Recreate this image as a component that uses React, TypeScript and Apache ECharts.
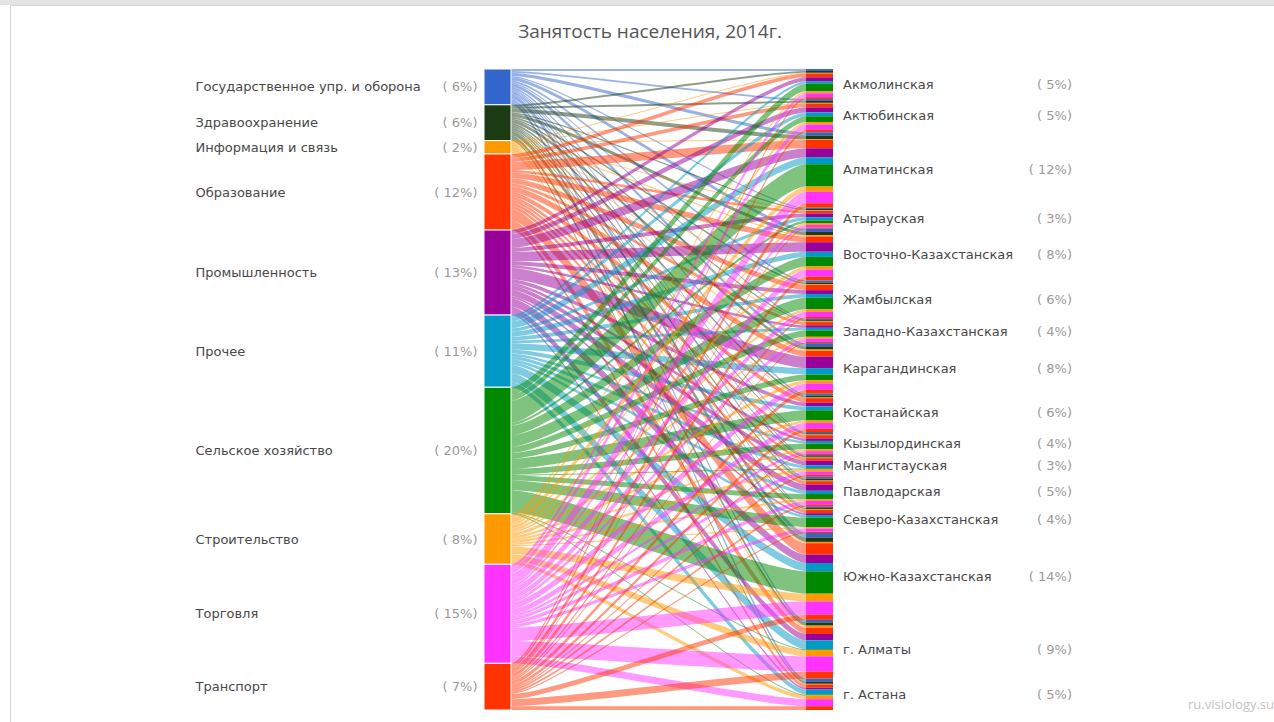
import React, { useEffect, useRef } from "react";
import * as echarts from "echarts";

const chartTitle = "Занятость населения, 2014г.";
const watermark = "ru.visiology.su";

const sectors = [
  "Государственное упр. и оборона",
  "Здравоохранение",
  "Информация и связь",
  "Образование",
  "Промышленность",
  "Прочее",
  "Сельское хозяйство",
  "Строительство",
  "Торговля",
  "Транспорт",
];
const sectorPct = ["6%", "6%", "2%", "12%", "13%", "11%", "20%", "8%", "15%", "7%"];
const sectorColors = [
  "#3366cc",
  "#1b3b14",
  "#ff9900",
  "#ff3300",
  "#990099",
  "#0099c6",
  "#008800",
  "#ff9900",
  "#ff33ff",
  "#ff3300",
];

const regions = [
  "Акмолинская",
  "Актюбинская",
  "Алматинская",
  "Атырауская",
  "Восточно-Казахстанская",
  "Жамбылская",
  "Западно-Казахстанская",
  "Карагандинская",
  "Костанайская",
  "Кызылординская",
  "Мангистауская",
  "Павлодарская",
  "Северо-Казахстанская",
  "Южно-Казахстанская",
  "г. Алматы",
  "г. Астана",
];
const regionPct = ["5%", "5%", "12%", "3%", "8%", "6%", "4%", "8%", "6%", "4%", "3%", "5%", "4%", "14%", "9%", "5%"];

// employment, per mille of total, by sector (rows) across regions (columns)
const govFlows = [3, 3, 5, 2, 5, 3, 2, 5, 3, 2, 2, 3, 2, 7, 4, 5];
const healthFlows = [3, 3, 6, 2, 5, 3, 2, 5, 3, 2, 2, 3, 2, 7, 5, 3];
const infoFlows = [1, 1, 1, 1, 2, 1, 1, 2, 1, 1, 1, 1, 1, 2, 3, 1];
const educationFlows = [6, 6, 13, 4, 9, 8, 5, 9, 7, 5, 4, 5, 5, 18, 10, 5];
const industryFlows = [6, 8, 14, 6, 15, 6, 4, 18, 6, 4, 7, 10, 3, 13, 10, 3];
const otherFlows = [4, 6, 11, 5, 8, 6, 4, 10, 6, 4, 5, 5, 4, 13, 14, 8];
const agricultureFlows = [12, 9, 35, 4, 15, 18, 10, 9, 16, 9, 1, 8, 15, 35, 1, 1];
const constructionFlows = [3, 4, 8, 3, 5, 4, 3, 5, 4, 3, 4, 3, 2, 12, 10, 6];
const tradeFlows = [6, 8, 18, 4, 11, 8, 5, 10, 9, 4, 5, 6, 5, 21, 24, 11];
const transportFlows = [3, 4, 7, 2, 6, 3, 2, 6, 5, 2, 3, 3, 2, 8, 11, 6];

const flows = [
  govFlows,
  healthFlows,
  infoFlows,
  educationFlows,
  industryFlows,
  otherFlows,
  agricultureFlows,
  constructionFlows,
  tradeFlows,
  transportFlows,
];

const FONT = "'DejaVu Sans', Verdana, sans-serif";

export default function App() {
  const ref = useRef<HTMLDivElement>(null);

  useEffect(() => {
    if (!ref.current) return;
    const chart = echarts.init(ref.current, undefined, { renderer: "svg" });

    const layoutBox = { left: 484, right: 441, top: 69, bottom: 12, nodeWidth: 27, nodeGap: 0 };

    // series 1: sectors -> striped sub-nodes (region x sector)
    const nodes1: any[] = sectors.map((s, i) => ({
      name: s,
      itemStyle: { color: sectorColors[i], borderColor: "#ffffff", borderWidth: 1, opacity: 1 },
    }));
    const links1: any[] = [];
    regions.forEach((r) => {
      sectors.forEach((s, si) => {
        nodes1.push({
          name: r + "|" + s,
          itemStyle: { color: sectorColors[si], borderWidth: 0, opacity: 1 },
          label: { show: false },
        });
      });
    });
    sectors.forEach((s, si) => {
      regions.forEach((r, ri) => {
        links1.push({ source: s, target: r + "|" + s, value: flows[si][ri] });
      });
    });

    // series 2: invisible sectors -> invisible regions, carrying the region labels
    const nodes2: any[] = [
      ...sectors.map((s) => ({
        name: s,
        itemStyle: { color: "rgba(0,0,0,0)", borderWidth: 0 },
        label: { show: false },
      })),
      ...regions.map((r) => ({
        name: r,
        itemStyle: { color: "rgba(0,0,0,0)", borderWidth: 0 },
      })),
    ];
    const links2: any[] = [];
    sectors.forEach((s, si) => {
      regions.forEach((r, ri) => {
        links2.push({ source: s, target: r, value: flows[si][ri] });
      });
    });

    chart.setOption({
      animation: false,
      backgroundColor: "#ffffff",
      title: {
        text: chartTitle,
        left: 645,
        textAlign: "center",
        top: 16,
        textStyle: { color: "#555555", fontSize: 19, fontWeight: "normal", fontFamily: "'Open Sans', sans-serif" },
      },
      graphic: [
        { type: "rect", z: -10, shape: { x: 0, y: 0, width: 1274, height: 5 }, style: { fill: "#e4e4e4" } },
        {
          type: "rect",
          z: -9,
          shape: { x: 10.5, y: 5.5, width: 1300, height: 740 },
          style: { fill: "none", stroke: "#d4d4d4", lineWidth: 1 },
        },
        {
          type: "text",
          left: 1188,
          top: 697,
          style: { text: watermark, fill: "#c4c4c4", fontSize: 13, fontFamily: "'Open Sans', sans-serif" },
        },
      ],
      series: [
        {
          type: "sankey",
          ...layoutBox,
          layoutIterations: 0,
          draggable: false,
          emphasis: { disabled: true },
          data: nodes1,
          links: links1,
          lineStyle: { color: "source", opacity: 0.5, curveness: 0.15 },
          label: {
            show: true,
            position: "left",
            distance: 6,
            formatter: (p: any) => {
              const i = sectors.indexOf(p.name);
              return "{n|" + p.name + "}{p|( " + sectorPct[i] + ")}";
            },
            rich: {
              n: { width: 232, align: "left", color: "#484848", fontSize: 13, fontFamily: FONT },
              p: { width: 50, align: "right", color: "#9a9a9a", fontSize: 13, fontFamily: FONT },
            },
          },
        },
        {
          type: "sankey",
          ...layoutBox,
          layoutIterations: 0,
          draggable: false,
          silent: true,
          emphasis: { disabled: true },
          data: nodes2,
          links: links2,
          lineStyle: { color: "#000000", opacity: 0 },
          label: {
            show: true,
            position: "right",
            distance: 10,
            formatter: (p: any) => {
              const i = regions.indexOf(p.name);
              return "{n|" + p.name + "}{p|( " + regionPct[i] + ")}";
            },
            rich: {
              n: { width: 190, align: "left", color: "#484848", fontSize: 13, fontFamily: FONT },
              p: { width: 39, align: "right", color: "#9a9a9a", fontSize: 13, fontFamily: FONT },
            },
          },
        },
      ],
    });

    return () => {
      chart.dispose();
    };
  }, []);

  return (
    <div
      ref={ref}
      style={{ position: "absolute", left: 0, top: 0, width: 1274, height: 722 }}
    />
  );
}
